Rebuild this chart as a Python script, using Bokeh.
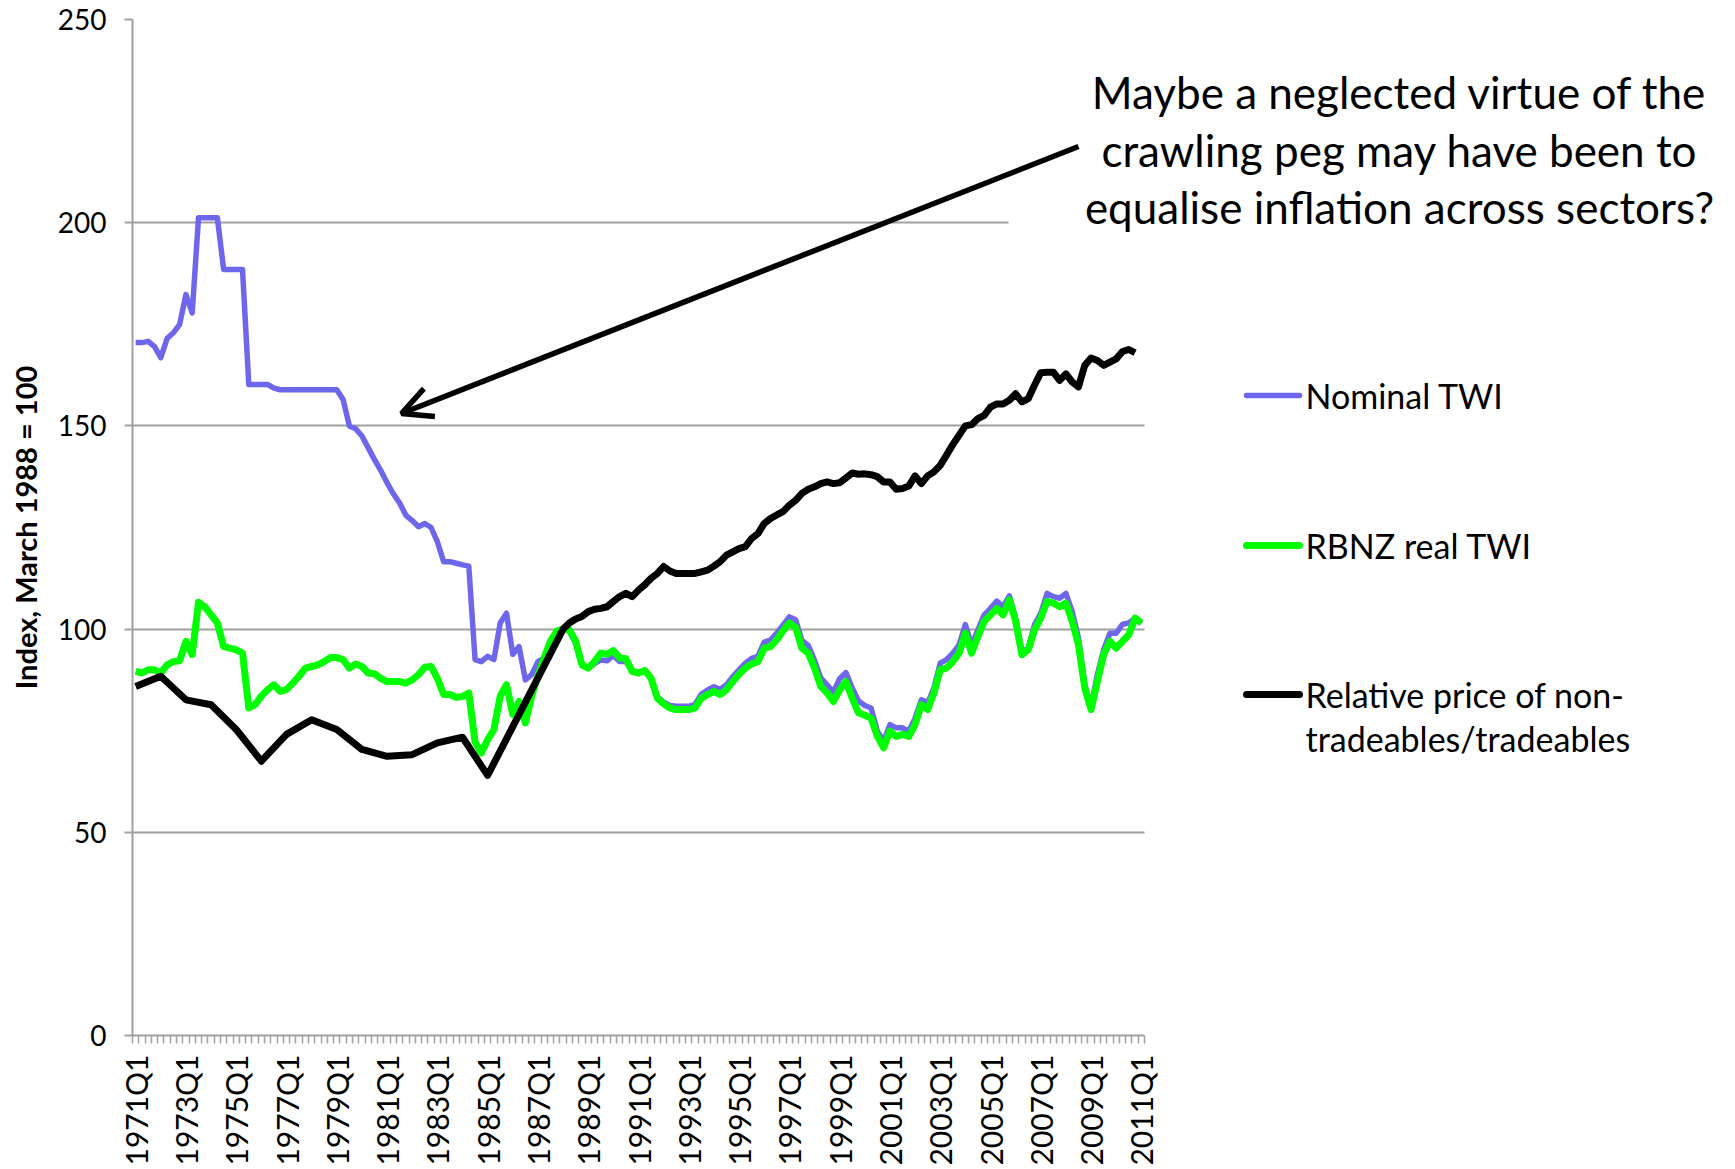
import math
from bokeh.plotting import figure
from bokeh.models import FixedTicker, Arrow, OpenHead, Label, BoxAnnotation, Range1d
from bokeh.embed import file_html
from bokeh.resources import INLINE

# ---------------- data ----------------
quarters = [f"{y}Q{q}" for y in range(1971, 2012) for q in (1, 2, 3, 4)][:161]  # 1971Q1 .. 2011Q1

tick_labels = ["1971Q1", "1973Q1", "1975Q1", "1977Q1", "1979Q1", "1981Q1", "1983Q1",
               "1985Q1", "1987Q1", "1989Q1", "1991Q1", "1993Q1", "1995Q1", "1997Q1",
               "1999Q1", "2001Q1", "2003Q1", "2005Q1", "2007Q1", "2009Q1", "2011Q1"]
y_ticks = [0, 50, 100, 150, 200, 250]

nominal_twi = [
    170.5, 170.5, 170.8, 169.5, 166.8, 171.5, 172.9, 175.0, 182.3, 177.8,
    201.2, 201.2, 201.2, 201.2, 188.5, 188.5, 188.5, 188.5, 160.2, 160.2,
    160.2, 160.2, 159.3, 158.9, 158.9, 158.9, 158.9, 158.9, 158.9, 158.9,
    158.9, 158.9, 158.9, 156.5, 150.0, 149.3, 147.5, 144.6, 141.7, 139.0,
    136.0, 133.3, 131.0, 128.0, 126.7, 125.2, 126.0, 125.0, 121.5, 116.6,
    116.6, 116.2, 115.8, 115.5, 92.5, 92.0, 93.3, 92.5, 101.5, 103.9,
    93.8, 95.7, 87.5, 88.8, 92.0, 92.9, 97.2, 98.8,
    100.0, 99.5, 96.5, 91.0, 90.4, 91.5, 92.4, 92.2, 93.5, 92.0,
    92.0, 89.6, 89.2, 89.8, 88.0, 83.4, 82.0, 81.2, 81.0, 81.0,
    81.0, 81.5, 84.0, 85.0, 85.8, 85.2, 86.3, 88.3, 90.0, 91.6,
    92.8, 93.3, 96.8, 97.3, 99.0, 101.0, 103.0, 102.3, 97.2, 96.0,
    92.3, 88.0, 86.3, 84.5, 87.8, 89.3, 85.5, 82.3, 81.2,
    80.6, 74.9, 72.4, 76.5, 75.7, 75.7, 74.9, 78.1, 82.6, 81.8,
    85.5, 91.6, 92.5, 94.1, 96.1, 101.1, 96.1, 99.8, 103.5, 105.1,
    106.9, 105.5, 108.2, 102.7, 94.5, 95.3, 101.1, 103.9, 108.8, 108.0,
    107.6, 108.8, 104.3, 97.8, 86.3, 81.0, 88.8, 94.9, 99.0, 99.0,
    101.2, 101.5, 102.7, 101.3,
]

real_twi = [
    89.6, 89.2, 90.0, 90.0, 89.2, 91.2, 92.0, 92.2, 97.0, 93.7,
    106.6, 105.5, 103.5, 101.5, 95.7, 95.3, 94.9, 94.1, 80.6, 81.4,
    83.5, 85.1, 86.3, 84.7, 85.1, 86.7, 88.4, 90.4, 90.8, 91.2,
    92.0, 93.0, 93.0, 92.5, 90.4, 91.4, 90.8, 89.2, 89.0, 87.9,
    87.1, 87.1, 87.1, 86.7, 87.5, 88.8, 90.6, 90.8, 87.9, 83.9,
    83.9, 83.2, 83.4, 84.3, 72.2, 69.5, 72.8, 75.3, 83.5, 86.3,
    79.0, 82.2, 76.9, 83.5, 88.5, 93.0, 97.0, 99.5,
    100.0, 99.8, 97.0, 91.2, 90.4, 92.0, 94.1, 93.8, 94.7, 92.9,
    92.7, 89.6, 89.2, 89.8, 87.9, 83.0, 81.6, 80.6, 80.2, 80.2,
    80.2, 80.6, 83.0, 83.9, 84.7, 83.9, 85.1, 87.1, 88.9, 90.4,
    91.4, 92.0, 95.3, 95.7, 97.4, 99.6, 101.5, 100.4, 95.3, 94.1,
    90.4, 85.9, 84.3, 82.2, 85.0, 87.1, 83.0, 79.4, 78.8,
    78.1, 73.6, 70.8, 74.9, 73.6, 74.1, 73.6, 76.5, 81.4, 80.2,
    84.3, 90.0, 90.4, 92.0, 94.1, 99.0, 94.1, 98.2, 101.9, 103.5,
    105.1, 103.5, 107.2, 101.9, 93.7, 94.9, 99.8, 102.7, 106.8, 106.4,
    105.5, 106.4, 101.9, 96.1, 85.5, 80.2, 87.1, 93.7, 97.0, 95.3,
    97.0, 98.6, 102.7, 101.5,
]

# relative price of non-tradeables/tradeables: annual points to 1987, quarterly from 1988Q1
rel_price_early_q = ["1971Q1", "1972Q1", "1973Q1", "1974Q1", "1975Q1", "1976Q1", "1977Q1",
                     "1978Q1", "1979Q1", "1980Q1", "1981Q1", "1982Q1", "1983Q1", "1984Q1",
                     "1985Q1", "1986Q1", "1987Q1"]
rel_price_early = [85.9, 88.4, 82.6, 81.4, 75.3, 67.5, 74.1, 77.7, 75.3, 70.4,
                   68.7, 69.1, 72.0, 73.4, 64.0, 76.0, 88.0]
rel_price_late_start = "1988Q1"
rel_price_late = [
    100.0, 101.5, 102.5, 103.1, 104.3, 104.9, 105.1, 105.5, 106.8, 108.0,
    108.8, 108.0, 109.6, 110.9, 112.5, 113.7, 115.4, 114.3, 113.7, 113.7,
    113.7, 113.7, 114.1, 114.5, 115.5, 116.6, 118.2, 119.0, 119.8, 120.3,
    122.3, 123.5, 126.0, 127.2, 128.1, 128.9, 130.5, 131.7, 133.4, 134.4,
    135.0, 135.8, 136.2, 135.8, 136.0, 137.2, 138.4, 138.1, 138.2, 138.0,
    137.5, 136.2, 136.2, 134.4, 134.6, 135.2, 137.7, 135.8, 137.7, 138.7,
    140.3, 142.8, 145.4, 147.7, 150.0, 150.3, 151.8, 152.6, 154.6, 155.4,
    155.4, 156.3, 157.9, 155.9, 156.7, 160.0, 163.1, 163.2, 163.2, 161.2,
    162.8, 160.8, 159.6, 164.9, 166.7, 166.1, 164.9, 165.7, 166.5, 168.3,
    168.8, 168.0,
]

series_names = ["Nominal TWI", "RBNZ real TWI", "Relative price of non-", "tradeables/tradeables"]
annotation_lines = ["Maybe a neglected virtue of the",
                    "crawling peg may have been to",
                    "equalise inflation across sectors?"]

# ---------------- derived positions ----------------
x_all = list(range(len(quarters)))
start = quarters.index(rel_price_late_start)
rel_x = [quarters.index(q) for q in rel_price_early_q] + list(range(start, start + len(rel_price_late)))
rel_y = rel_price_early + rel_price_late
tick_pos = [quarters.index(t) for t in tick_labels]

# ---------------- layout ----------------
CW, CH = 1719, 1153                 # canvas size
OX, OY = 1, 0                       # observed canvas offset in the page picture
FL, FT = 132, 19                    # frame left / top (canvas px)
PLOT_W = 1012                       # width of the category axis in px
FW = CW - FL                        # frame spans to the right edge (room for legend / note)
FB = 1035                           # frame bottom (canvas px)
FH = FB - FT
X0 = -0.5
XA = len(quarters) - 0.5            # end of category axis
X1 = X0 + FW * (XA - X0) / PLOT_W
Y0, Y1 = 0, 250


def xd(win_x):  # picture px -> data x
    return X0 + (win_x - OX - FL) / FW * (X1 - X0)


def yd(win_y):  # picture px -> data y
    return Y1 - (win_y - OY - FT) / FH * (Y1 - Y0)


BLUE, GREEN, BLACK, GRID = "#6E67EC", "#00FF00", "#000000", "#A0A0A0"
FONT = "Lato"

p = figure(frame_width=FW, frame_height=FH,
           min_border_left=FL, min_border_right=0,
           min_border_top=FT, min_border_bottom=CH - FB,
           x_range=Range1d(X0, X1), y_range=Range1d(Y0, Y1),
           output_backend="svg", toolbar_location=None)
p.outline_line_color = None
p.background_fill_color = "white"
p.border_fill_color = "white"

# x axis
p.xaxis.bounds = (X0, XA)
p.xaxis.ticker = FixedTicker(ticks=tick_pos, minor_ticks=[i - 0.5 for i in range(len(quarters) + 1)])
p.xaxis.major_label_overrides = {pos: lbl for pos, lbl in zip(tick_pos, tick_labels)}
p.xaxis.major_label_orientation = math.pi / 2
p.xaxis.major_tick_line_color = None
p.xaxis.major_tick_out = 0
p.xaxis.major_tick_in = 0
p.xaxis.minor_tick_out = 8
p.xaxis.minor_tick_in = 0
p.xaxis.minor_tick_line_color = GRID
p.xaxis.minor_tick_line_width = 1.5
p.xaxis.axis_line_color = GRID
p.xaxis.axis_line_width = 2
p.xaxis.major_label_standoff = 11
p.xaxis.major_label_text_font = FONT
p.xaxis.major_label_text_font_size = "30px"
p.xaxis.major_label_text_color = "black"

# y axis
p.yaxis.ticker = FixedTicker(ticks=y_ticks)
p.yaxis.major_tick_out = 8
p.yaxis.major_tick_in = 0
p.yaxis.major_tick_line_color = GRID
p.yaxis.major_tick_line_width = 2
p.yaxis.minor_tick_line_color = None
p.yaxis.axis_line_color = GRID
p.yaxis.axis_line_width = 2
p.yaxis.major_label_standoff = 18
p.yaxis.major_label_text_font = FONT
p.yaxis.major_label_text_font_size = "28px"
p.yaxis.major_label_text_color = "black"
p.yaxis.axis_label = "Index, March 1988 = 100"
p.yaxis.axis_label_text_font = FONT
p.yaxis.axis_label_text_font_style = "bold"
p.yaxis.axis_label_text_font_size = "29px"
p.yaxis.axis_label_text_color = "black"
p.yaxis.axis_label_standoff = 12

p.xgrid.visible = False
p.ygrid.ticker = FixedTicker(ticks=y_ticks)
p.ygrid.grid_line_color = GRID
p.ygrid.grid_line_width = 2

# series
p.line(x_all, nominal_twi, line_color=BLUE, line_width=5.5, line_join="round")
p.line(x_all, real_twi, line_color=GREEN, line_width=7, line_join="round")
p.line(rel_x, rel_y, line_color=BLACK, line_width=7, line_join="round")

# blank area right of the category axis (legend / note region)
p.add_layout(BoxAnnotation(left=XA, fill_color="white", fill_alpha=1.0, line_color=None))
# text box (white fill) behind the note
p.add_layout(BoxAnnotation(left=xd(1009), bottom=yd(238), top=yd(58), fill_color="white",
                           fill_alpha=1.0, line_color=None))

# arrow
p.add_layout(Arrow(end=OpenHead(size=30, line_width=5.5, line_color=BLACK),
                   x_start=xd(1079), y_start=yd(146), x_end=xd(402), y_end=yd(413),
                   line_width=5.5, line_color=BLACK))

# note text
for txt, wy in zip(annotation_lines, [91, 149, 206]):
    p.add_layout(Label(x=xd(1400), y=yd(wy), text=txt, text_align="center",
                       text_baseline="middle", text_font=FONT, text_font_size="44px",
                       text_color="black"))

# manual legend
legend_rows = [(BLUE, 5.5, 395, [series_names[0]]),
               (GREEN, 7, 545, [series_names[1]]),
               (BLACK, 7, 694, [series_names[2], series_names[3]])]
for color, lw, wy, texts in legend_rows:
    p.add_layout(Arrow(end=None, x_start=xd(1247), y_start=yd(wy), x_end=xd(1300), y_end=yd(wy),
                       line_color=color, line_width=lw, line_cap="round"))
    for k, t in enumerate(texts):
        p.add_layout(Label(x=xd(1306), y=yd(wy + 44 * k), text=t, text_align="left",
                           text_baseline="middle", text_font=FONT, text_font_size="34px",
                           text_color="black"))

open("out.html", "w").write(file_html(p, INLINE))
